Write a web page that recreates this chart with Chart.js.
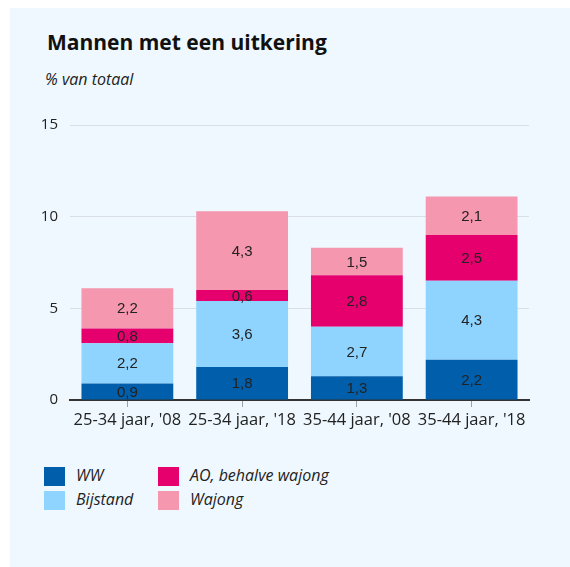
<!DOCTYPE html>
<html>
<head>
<meta charset="utf-8">
<script src="https://cdn.jsdelivr.net/npm/chart.js@4/dist/chart.umd.min.js"></script>
<style>
  html, body { margin: 0; padding: 0; background: #fff; }
  body { width: 570px; height: 567px; position: relative; overflow: hidden; font-family: "Open Sans", sans-serif; }
  #panel { position: absolute; left: 10px; top: 8px; width: 560px; height: 559px; background: #eef8fe; }
  #title { position: absolute; left: 37px; top: 20px; font-size: 21px; font-weight: bold; color: #111; white-space: nowrap; }
  #subtitle { position: absolute; left: 35px; top: 60px; font-size: 16px; font-style: italic; color: #222; white-space: nowrap; }
  #chartBox { position: absolute; left: 0px; top: 92px; width: 540px; height: 340px; }
  #legend { position: absolute; left: 34px; top: 459px; }
  .item { position: absolute; white-space: nowrap; font-size: 16px; font-style: italic; color: #222; }
  .swatch { position: absolute; left: 0; top: 0; width: 21px; height: 19px; }
  .item span { position: absolute; left: 32px; top: -3px; }
</style>
</head>
<body>
<div id="panel">
  <div id="title">Mannen met een uitkering</div>
  <div id="subtitle">% van totaal</div>
  <div id="chartBox"><canvas id="chart" width="540" height="340"></canvas></div>
  <div id="legend"></div>
</div>
<script>
const categories = ["25-34 jaar, '08", "25-34 jaar, '18", "35-44 jaar, '08", "35-44 jaar, '18"];
const seriesNames = ["WW", "Bijstand", "AO, behalve wajong", "Wajong"];
const seriesColors = ["#005eab", "#8fd3ff", "#e5006d", "#f597ae"];
const ww = [0.9, 1.8, 1.3, 2.2];
const bijstand = [2.2, 3.6, 2.7, 4.3];
const ao = [0.8, 0.6, 2.8, 2.5];
const wajong = [2.2, 4.3, 1.5, 2.1];
const yTicks = [0, 5, 10, 15];

const seriesValues = [ww, bijstand, ao, wajong];

// legend in two columns: WW / Bijstand left, AO / Wajong right
const legendPos = [[0, 0], [0, 24], [114, 0], [114, 24]];
const legend = document.getElementById("legend");
seriesNames.forEach((name, i) => {
  const item = document.createElement("div");
  item.className = "item";
  item.style.left = legendPos[i][0] + "px";
  item.style.top = legendPos[i][1] + "px";
  item.innerHTML = `<div class="swatch" style="background:${seriesColors[i]}"></div><span>${name}</span>`;
  legend.appendChild(item);
});

const segmentLabels = {
  id: "segmentLabels",
  afterDatasetsDraw(chart) {
    const ctx = chart.ctx;
    ctx.save();
    ctx.font = "15px 'Liberation Sans', Arial, sans-serif";
    ctx.fillStyle = "#222";
    ctx.textAlign = "center";
    ctx.textBaseline = "middle";
    chart.data.datasets.forEach((ds, i) => {
      const meta = chart.getDatasetMeta(i);
      meta.data.forEach((bar, j) => {
        const txt = ds.data[j].toFixed(1).replace(".", ",");
        ctx.fillText(txt, bar.x, (bar.y + bar.base) / 2 + 1);
      });
    });
    ctx.restore();
  },
};

new Chart(document.getElementById("chart"), {
  type: "bar",
  data: {
    labels: categories,
    datasets: seriesNames.map((name, i) => ({
      label: name,
      data: seriesValues[i],
      backgroundColor: seriesColors[i],
      borderWidth: 0,
      barPercentage: 0.8,
      categoryPercentage: 1,
    })),
  },
  options: {
    responsive: false,
    animation: false,
    layout: { padding: { left: 0, right: 21, top: 25, bottom: 0 } },
    plugins: {
      legend: { display: false },
      tooltip: { enabled: false },
    },
    scales: {
      x: {
        stacked: true,
        grid: { drawOnChartArea: false, offset: false, tickLength: 7, color: "#9aa0a6" },
        border: { color: "#333", width: 2 },
        ticks: {
          color: "#222",
          font: { size: 16.5, family: "'Open Sans', sans-serif" },
          padding: 3,
          maxRotation: 0,
          minRotation: 0,
          autoSkip: false,
        },
        afterFit: (scale) => { scale.height = 40; },
      },
      y: {
        stacked: true,
        min: 0,
        max: 15,
        afterBuildTicks: (scale) => { scale.ticks = yTicks.map((v) => ({ value: v })); },
        grid: { color: "#d9dfe4", drawTicks: false },
        border: { display: false },
        ticks: { color: "#222", font: { size: 15, family: "'Open Sans', sans-serif" }, padding: 12 },
        afterFit: (scale) => { scale.width = 60; },
      },
    },
  },
  plugins: [segmentLabels],
});
</script>
</body>
</html>
